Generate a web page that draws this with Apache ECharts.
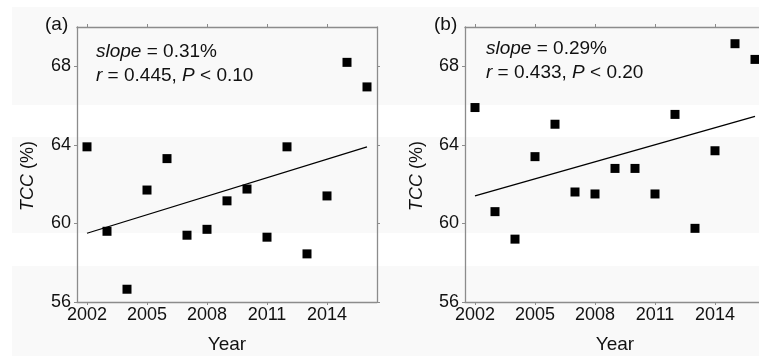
<!DOCTYPE html>
<html><head><meta charset="utf-8">
<script src="https://cdn.jsdelivr.net/npm/echarts@6/dist/echarts.min.js"></script>
<style>html,body{margin:0;padding:0;background:#fff}#c{width:759px;height:356px}</style>
</head><body><div id="c"></div>
<script>
const years = [2002,2003,2004,2005,2006,2007,2008,2009,2010,2011,2012,2013,2014,2015,2016];
const tccA = [63.9,59.6,56.65,61.7,63.3,59.4,59.7,61.15,61.75,59.3,63.9,58.45,61.4,68.2,66.95];
const tccB = [65.9,60.6,59.2,63.4,65.05,61.6,61.5,62.8,62.8,61.5,65.55,59.75,63.7,69.15,68.35];
const fitYears = [2002, 2016];
const fitA = [59.5, 63.9];
const fitB = [61.4, 65.45];
const xTicks = [2002,2005,2008,2011,2014];
const yTicks = [56,60,64,68];
const panelLabels = ['(a)','(b)'];
const statsA = ['{i|slope} = 0.31%', '{i|r} = 0.445, {i|P} < 0.10'];
const statsB = ['{i|slope} = 0.29%', '{i|r} = 0.433, {i|P} < 0.20'];
const yName = '{i|TCC} (%)';
const xName = 'Year';

const FONT = '"Liberation Sans", Arial, sans-serif';
const FS = 18;
const axisCol = '#8c8c8c';
const txtCol = '#111';
const grids = [
  {left: 77, top: 27, width: 300, height: 275, outerBoundsMode: 'none', containLabel: false},
  {left: 465, top: 27, width: 300, height: 275, outerBoundsMode: 'none', containLabel: false}
];
const xAxes = [], yAxes = [], series = [];
grids.forEach((g, i) => {
  xAxes.push({
    type: 'value', gridIndex: i, position: 'bottom', min: 2001.5, max: 2016.5,
    splitLine: {show: false},
    axisLine: {lineStyle: {color: axisCol, width: 1.3}},
    axisTick: {show: true, length: 3, customValues: xTicks, lineStyle: {color: axisCol}},
    axisLabel: {customValues: xTicks, formatter: v => String(v), fontSize: FS, color: txtCol, fontFamily: FONT, margin: 4},
    name: xName, nameLocation: 'middle', nameGap: 33,
    nameTextStyle: {fontSize: 19, color: txtCol, fontFamily: FONT}
  });
  xAxes.push({
    type: 'value', gridIndex: i, position: 'top', min: 2001.5, max: 2016.5,
    splitLine: {show: false},
    axisLine: {lineStyle: {color: axisCol, width: 1.3}},
    axisTick: {show: true, length: 3, customValues: xTicks, lineStyle: {color: axisCol}},
    axisLabel: {show: false}
  });
  yAxes.push({
    type: 'value', gridIndex: i, position: 'left', min: 56, max: 70, interval: 4,
    splitLine: {show: false},
    axisLine: {show: true, lineStyle: {color: axisCol, width: 1.3}},
    axisTick: {show: true, length: 3, customValues: yTicks, lineStyle: {color: axisCol}},
    axisLabel: {customValues: yTicks, fontSize: FS, color: txtCol, fontFamily: FONT, margin: 6}
  });
  yAxes.push({
    type: 'value', gridIndex: i, position: 'right', min: 56, max: 70, interval: 4,
    splitLine: {show: false},
    axisLine: {show: true, lineStyle: {color: axisCol, width: 1.3}},
    axisTick: {show: true, length: 3, customValues: yTicks, lineStyle: {color: axisCol}},
    axisLabel: {show: false}
  });
  const vals = i === 0 ? tccA : tccB;
  const fit = i === 0 ? fitA : fitB;
  series.push({
    type: 'scatter', xAxisIndex: 2*i, yAxisIndex: 2*i, symbol: 'rect', symbolSize: 9,
    itemStyle: {color: '#000', opacity: 1}, data: years.map((y, k) => [y, vals[k]]), z: 3
  });
  series.push({
    type: 'line', xAxisIndex: 2*i, yAxisIndex: 2*i, symbol: 'none',
    lineStyle: {color: '#000', width: 1.3}, data: fitYears.map((y, k) => [y, fit[k]]), z: 2
  });
});

const bandCol = '#f9f9f9';
const graphic = [
  {type: 'rect', shape: {x: 12, y: 7, width: 747, height: 98}, style: {fill: bandCol}, z: -10, silent: true},
  {type: 'rect', shape: {x: 12, y: 137, width: 747, height: 96}, style: {fill: bandCol}, z: -10, silent: true},
  {type: 'rect', shape: {x: 12, y: 266, width: 747, height: 90}, style: {fill: bandCol}, z: -10, silent: true}
];
const richI19 = {i: {fontStyle: 'italic', fontSize: 19, fill: txtCol, fontFamily: FONT}};
const richI18 = {i: {fontStyle: 'italic', fontSize: 18, fill: txtCol, fontFamily: FONT}};
[[45, 25, panelLabels[0]], [434, 25, panelLabels[1]]].forEach(p => {
  graphic.push({type: 'text', x: p[0], y: p[1], style: {text: p[2], fontSize: 19, fill: txtCol, fontFamily: FONT, verticalAlign: 'middle'}});
});
[[96, 52, statsA], [486, 49, statsB]].forEach(p => {
  p[2].forEach((t, k) => {
    graphic.push({type: 'text', x: p[0], y: p[1] + k * 24, style: {text: t, fontSize: 19, fill: txtCol, fontFamily: FONT, verticalAlign: 'middle', rich: richI19}});
  });
});
[[28, 176], [417, 176]].forEach(p => {
  graphic.push({type: 'text', x: p[0], y: p[1], rotation: Math.PI / 2,
    style: {text: yName, fontSize: 18, fill: txtCol, fontFamily: FONT, align: 'center', verticalAlign: 'middle', rich: richI18}});
});

const chart = echarts.init(document.getElementById('c'), null, {renderer: 'canvas'});
chart.setOption({
  backgroundColor: '#fff', animation: false,
  grid: grids, xAxis: xAxes, yAxis: yAxes, series: series, graphic: graphic
});
</script></body></html>
